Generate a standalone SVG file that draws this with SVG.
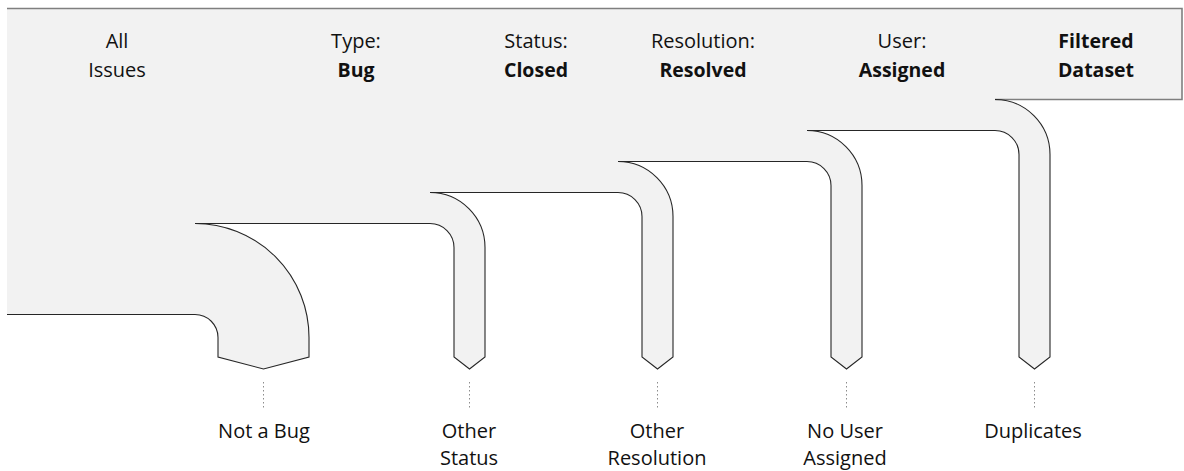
<svg xmlns="http://www.w3.org/2000/svg" width="1184" height="471" viewBox="0 0 1184 471">
<style>
.fill{fill:#f2f2f2;stroke:none}
.edge{fill:none;stroke:#262626;stroke-width:1.1;stroke-linejoin:miter}
.frame{fill:none;stroke:#7f7f7f;stroke-width:1.6}
.dot{stroke:#8c8c8c;stroke-width:1;stroke-dasharray:1.5 2.5;fill:none}
text{font-family:"Open Sans","Noto Sans","Liberation Sans",sans-serif;font-size:20px;fill:#111;text-anchor:middle}
.b{font-weight:bold;font-size:19.5px}
</style>
<g id="funnel">
<path class="fill" d="M7,8.5 H1182 V99.5 H995 A55,55 0 0 1 1050,154.5 V357 L1034.5,369 L1019,357 V154.5 A24,24 0 0 0 995,130.5 H807 A55,55 0 0 1 862,185.5 V357 L846.5,369 L831,357 V185.5 A24,24 0 0 0 807,161.5 H618 A55,55 0 0 1 673,216.5 V357 L657.5,369 L642,357 V216.5 A24,24 0 0 0 618,192.5 H430 A55,55 0 0 1 485,247.5 V357 L469.5,369 L454,357 V247.5 A24,24 0 0 0 430,223.5 H195 A114,114 0 0 1 309,337.5 V357 L263.5,369 L218,357 V337.5 A23,23 0 0 0 195,314.5 H7 Z"/>
<path class="frame" d="M7,8.5 H1182 V99.5 H995"/>
<path class="edge" d="M995,99.5 A55,55 0 0 1 1050,154.5 V357 L1034.5,369 L1019,357 V154.5 A24,24 0 0 0 995,130.5 H807 A55,55 0 0 1 862,185.5 V357 L846.5,369 L831,357 V185.5 A24,24 0 0 0 807,161.5 H618 A55,55 0 0 1 673,216.5 V357 L657.5,369 L642,357 V216.5 A24,24 0 0 0 618,192.5 H430 A55,55 0 0 1 485,247.5 V357 L469.5,369 L454,357 V247.5 A24,24 0 0 0 430,223.5 H195 A114,114 0 0 1 309,337.5 V357 L263.5,369 L218,357 V337.5 A23,23 0 0 0 195,314.5 H7"/>
</g>
<g id="stage-all"><text x="117" y="48">All</text><text x="117" y="77">Issues</text></g>
<g id="stage-type"><text x="356" y="48">Type:</text><text class="b" x="356" y="77">Bug</text></g>
<g id="stage-status"><text x="536" y="48">Status:</text><text class="b" x="536" y="77">Closed</text></g>
<g id="stage-resolution"><text x="703" y="48">Resolution:</text><text class="b" x="703" y="77">Resolved</text></g>
<g id="stage-user"><text x="902" y="48">User:</text><text class="b" x="902" y="77">Assigned</text></g>
<g id="stage-filtered"><text class="b" x="1096" y="48">Filtered</text><text class="b" x="1096" y="77">Dataset</text></g>
<g id="connectors">
<line class="dot" x1="263.5" y1="382" x2="263.5" y2="408"/>
<line class="dot" x1="469.5" y1="382" x2="469.5" y2="408"/>
<line class="dot" x1="657.5" y1="382" x2="657.5" y2="408"/>
<line class="dot" x1="846.5" y1="382" x2="846.5" y2="408"/>
<line class="dot" x1="1034.5" y1="382" x2="1034.5" y2="408"/>
</g>
<g id="out-notbug"><text x="264" y="438">Not a Bug</text></g>
<g id="out-otherstatus"><text x="469" y="438">Other</text><text x="469" y="465">Status</text></g>
<g id="out-otherresolution"><text x="657" y="438">Other</text><text x="657" y="465">Resolution</text></g>
<g id="out-nouser"><text x="845" y="438">No User</text><text x="845" y="465">Assigned</text></g>
<g id="out-duplicates"><text x="1033" y="438">Duplicates</text></g>
</svg>
